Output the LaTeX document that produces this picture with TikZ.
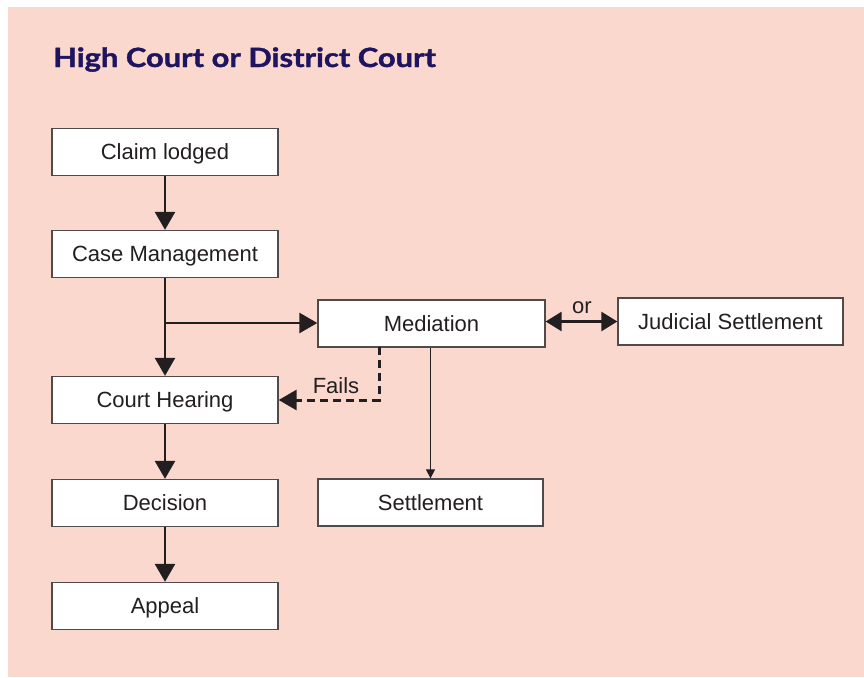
\documentclass[tikz,border=0pt]{standalone}
\usepackage{fontspec}
\setmainfont{Liberation Sans}
\newfontfamily\titlefont[FakeBold=1.3]{Lato}
\usetikzlibrary{arrows.meta}
\definecolor{pagebg}{RGB}{250,216,205}
\definecolor{titleblue}{RGB}{30,20,96}
\definecolor{ink}{RGB}{35,31,32}
\definecolor{boxline}{RGB}{80,74,74}
\tikzset{
  stage/.style={draw=boxline, line width=1.3pt, fill=white, inner sep=0pt,
    minimum width=226pt, minimum height=47pt, text=ink,
    text height=15pt, text depth=0pt,
    font=\fontsize{22}{25}\selectfont},
  label/.style={text=ink, inner sep=0pt, font=\fontsize{22}{25}\selectfont},
  flow/.style={draw=ink, line width=2.6pt, -{Triangle[width=20pt,length=18pt]}},
  fail/.style={draw=ink, line width=3pt, dash pattern=on 8pt off 5pt,
    -{Triangle[width=20pt,length=18pt]}},
  choice/.style={draw=ink, line width=2.6pt,
    {Triangle[width=19pt,length=16pt]}-{Triangle[width=19pt,length=16pt]}},
  thin/.style={draw=ink, line width=1.2pt, -{Triangle[width=9pt,length=9pt]}}
}
\begin{document}
\begin{tikzpicture}[x=1pt, y=-1pt]
  \useasboundingbox (0,0) rectangle (864,677);
  \fill[pagebg] (8,7) rectangle (864,677);

  \node[anchor=base west, inner sep=0pt, text=titleblue, xscale=1.165,
        font=\titlefont\bfseries\fontsize{26.5}{30}\selectfont]
        (title) at (53,67) {High Court or District Court};

  % main track
  \node[stage] (claim)   at (165,152)   {Claim lodged};
  \node[stage] (case)    at (165,254)   {Case Management};
  \node[stage] (hearing) at (165,400)   {Court Hearing};
  \node[stage] (decide)  at (165,503)   {Decision};
  \node[stage] (appeal)  at (165,606)   {Appeal};

  % alternative track
  \node[stage, minimum width=227pt] (med)    at (431.5,323.5) {Mediation};
  \node[stage, minimum width=225pt] (jud)    at (730.5,321.5) {Judicial Settlement};
  \node[stage, minimum width=225pt] (settle) at (430.5,502.5) {Settlement};

  \draw[flow] (claim) -- (case);
  \draw[flow] (case) -- (hearing);
  \draw[flow] (hearing) -- (decide);
  \draw[flow] (decide) -- (appeal);

  \coordinate (branch) at (165,323);
  \draw[flow] (branch) -- (branch -| med.west);

  \coordinate (failtop) at (379,347);
  \draw[fail] (failtop) |- (hearing.east);
  \node[label, anchor=base] (fails) at (336,393) {Fails};

  \draw[thin] (med.south -| settle.north) -- (settle.north);

  \draw[choice] (med.east |- jud.west) -- (jud.west);
  \node[label, anchor=base] (or) at (582,313) {or};
\end{tikzpicture}
\end{document}
